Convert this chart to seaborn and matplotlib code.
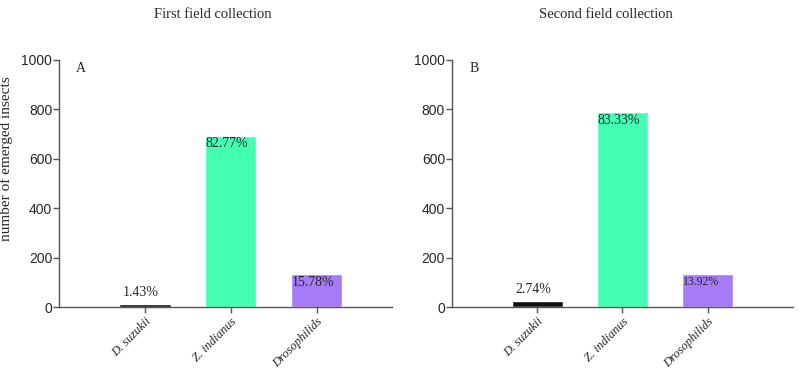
import matplotlib
matplotlib.use('Agg')
import matplotlib.pyplot as plt
import seaborn as sns
import pandas as pd

sns.set_style('ticks')
plt.rcParams['font.family'] = ['Liberation Sans', 'DejaVu Sans']

species = ['D. suzukii', 'Z. indianus', 'Drosophilids']
first_counts = [12, 693, 132]
second_counts = [26, 788, 132]
first_pcts = ['1.43%', '82.77%', '15.78%']
second_pcts = ['2.74%', '83.33%', '13.92%']
colors = ['#111111', '#44FFB2', '#A67CF6']
serif = 'Liberation Serif'

fig = plt.figure(figsize=(8, 3.7), dpi=100)
ax1 = fig.add_axes([0.074, 0.170, 0.416, 0.668])
ax2 = fig.add_axes([0.565, 0.170, 0.426, 0.668])

panels = [(ax1, first_counts, first_pcts, 'A', 2.88),
          (ax2, second_counts, second_pcts, 'B', 3.0)]

for ax, counts, pcts, letter, xmax in panels:
    df = pd.DataFrame({'species': species, 'count': counts})
    sns.barplot(data=df, x='species', y='count', hue='species', palette=colors,
                width=0.6, legend=False, ax=ax, saturation=1)
    ax.set_xlim(-1, xmax)
    ax.set_ylim(0, 1000)
    ax.set_yticks([0, 200, 400, 600, 800, 1000])
    ax.set_xlabel('')
    ax.set_ylabel('')
    for s in ['top', 'right']:
        ax.spines[s].set_visible(False)
    for s in ['left', 'bottom']:
        ax.spines[s].set_color('#555555')
        ax.spines[s].set_linewidth(1)
    ax.tick_params(axis='both', color='#555555', length=4, width=1)
    ax.tick_params(axis='y', labelsize=10, pad=1)
    ax.tick_params(axis='x', pad=2)
    ax.set_xticks(range(3))
    ax.set_xticklabels(species, rotation=45, ha='right', rotation_mode='anchor',
                       family=serif, style='italic', fontsize=9)
    ax.text(0.05, 0.99, letter, transform=ax.transAxes, family=serif,
            fontsize=10, va='top')
    # percentage labels
    ax.text(-0.05, counts[0] + 20, pcts[0], ha='center', va='bottom',
            family=serif, fontsize=10)
    ax.text(0.71, counts[1] - 5, pcts[1], ha='left', va='top',
            family=serif, fontsize=10)
    ax.text(1.71, counts[2] - 5, pcts[2], ha='left', va='top',
            family=serif, fontsize=10 if letter == 'A' else 8.5)

ax1.set_ylabel('number of emerged insects', family=serif, fontsize=11)
ax1.yaxis.set_label_coords(-0.14, 0.6)

fig.text(213 / 800, 1 - 14 / 370, 'First field collection', ha='center', va='center',
         family=serif, fontsize=10.5)
fig.text(606 / 800, 1 - 14 / 370, 'Second field collection', ha='center', va='center',
         family=serif, fontsize=10.5)

fig.savefig('out.png', dpi=100)
